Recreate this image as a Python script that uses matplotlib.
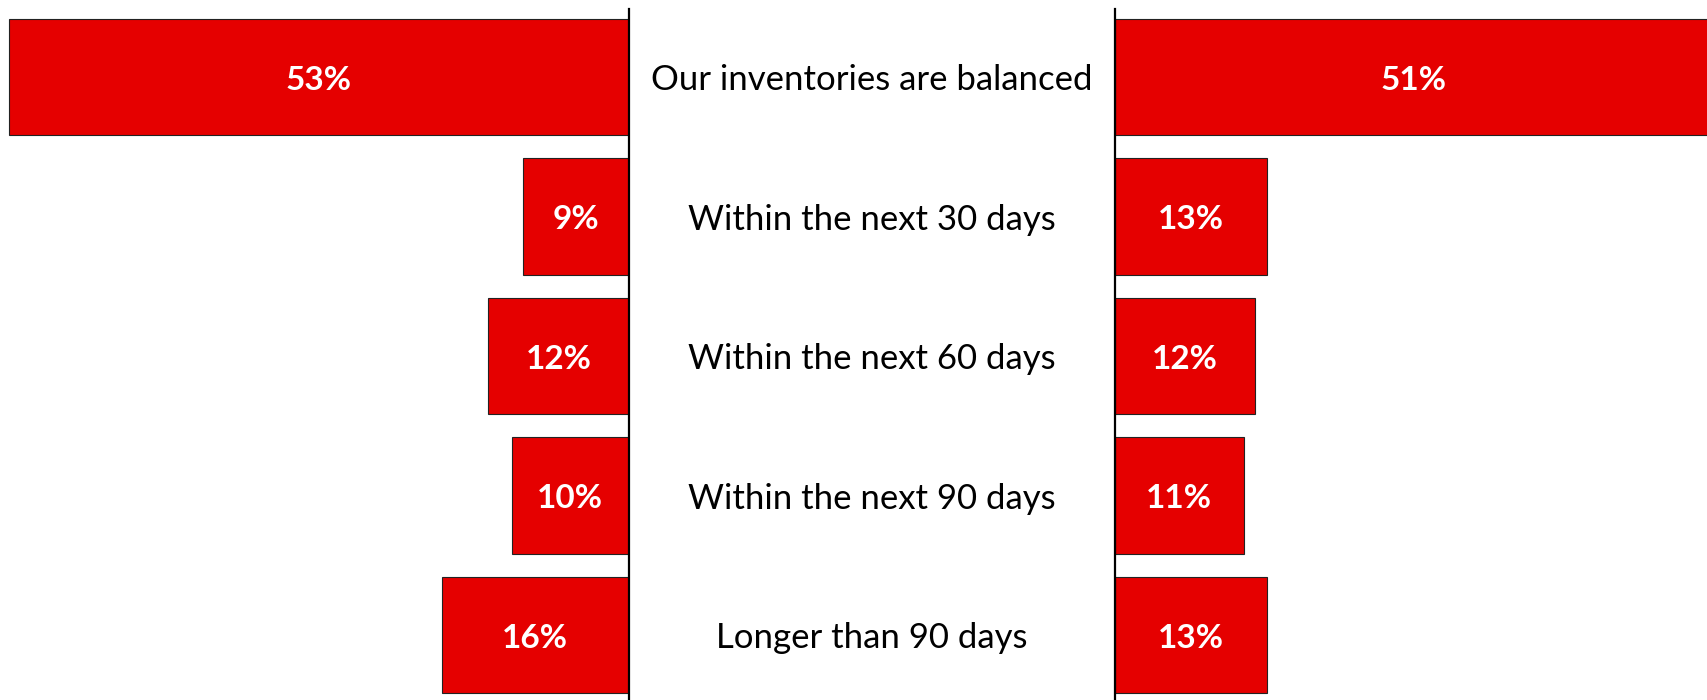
import matplotlib
matplotlib.use("Agg")
import matplotlib.pyplot as plt

categories = ["Our inventories are balanced", "Within the next 30 days",
              "Within the next 60 days", "Within the next 90 days",
              "Longer than 90 days"]
left_values = [53, 9, 12, 10, 16]
right_values = [51, 13, 12, 11, 13]

RED = "#E50000"
W, H = 1708, 700
fig = plt.figure(figsize=(W / 100, H / 100), dpi=100)

px_per_pct = 11.69
left_zero = 628.6
right_zero = 1115.0
top_px = 8.7
y_top, y_bot = -0.488, 4.467
ax_h = (H - top_px) / H

axL = fig.add_axes([0, 0, left_zero / W, ax_h])
axR = fig.add_axes([right_zero / W, 0, (W - right_zero) / W, ax_h])

axL.set_xlim(-left_zero / px_per_pct, 0)
axR.set_xlim(0, (W - right_zero) / px_per_pct)
ypos = list(range(len(categories)))
for ax in (axL, axR):
    ax.set_ylim(y_bot, y_top)
    ax.set_xticks([])
    ax.set_yticks([])
    for s in ax.spines.values():
        s.set_visible(False)
    ax.patch.set_alpha(0)

axL.spines["right"].set_visible(True)
axL.spines["right"].set_linewidth(1.6)
axR.spines["left"].set_visible(True)
axR.spines["left"].set_linewidth(1.6)

bh = 0.835
axL.barh(ypos, [-v for v in left_values], height=bh, color=RED,
         edgecolor="#222222", linewidth=0.8, zorder=1)
axR.barh(ypos, right_values, height=bh, color=RED,
         edgecolor="#222222", linewidth=0.8, zorder=1)

font = "Lato"
dy = 0.025
for y, v in zip(ypos, left_values):
    axL.text(-v / 2, y + dy, f"{v}%", ha="center", va="center", color="white",
             fontsize=24, fontweight="bold", family=font)
for y, v in zip(ypos, right_values):
    axR.text(v / 2, y + dy, f"{v}%", ha="center", va="center", color="white",
             fontsize=24, fontweight="bold", family=font, clip_on=False)

mid_x = (left_zero + right_zero) / 2 / W
for y, c in zip(ypos, categories):
    yf = axL.transData.transform((0, y + dy))[1] / H
    fig.text(mid_x, yf, c, ha="center", va="center", color="black",
             fontsize=25, family=font)

fig.savefig("out.png", dpi=100)
